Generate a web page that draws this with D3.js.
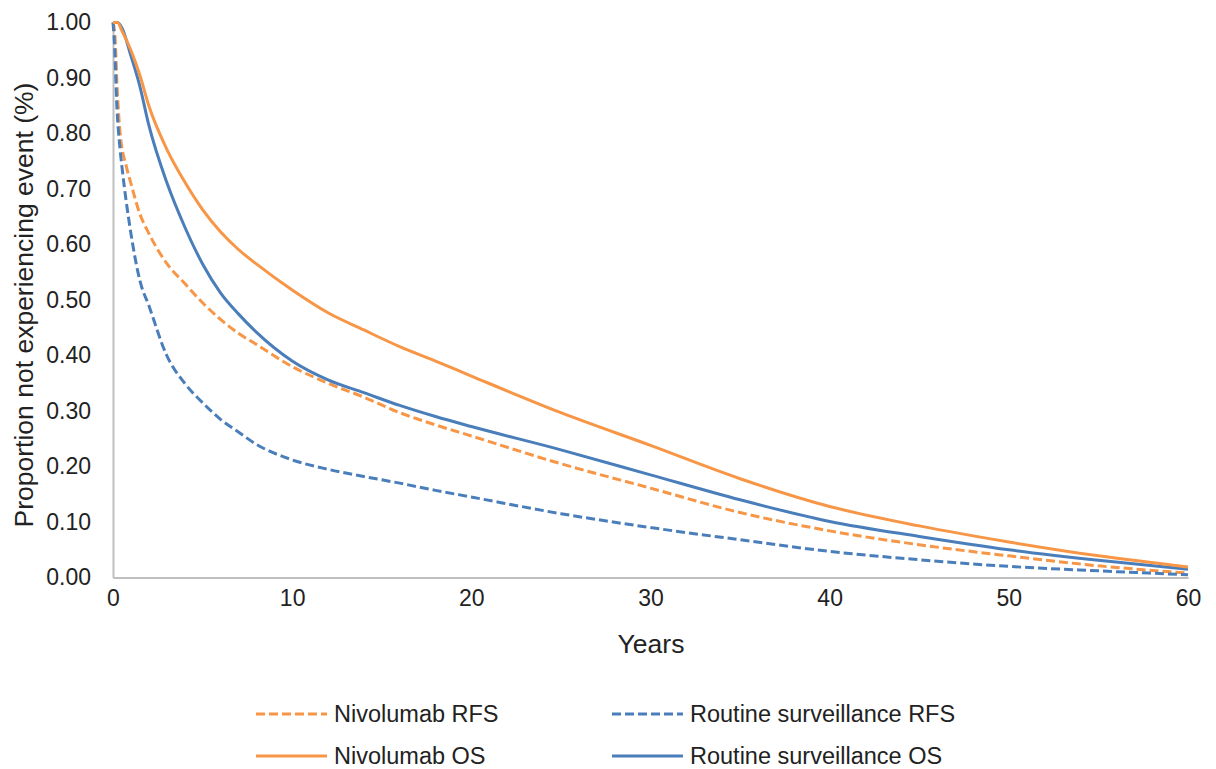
<!DOCTYPE html>
<html><head><meta charset="utf-8">
<script src="https://cdn.jsdelivr.net/npm/d3@7"></script>
<style>body{margin:0;background:#fff}svg{display:block}text{font-family:"Liberation Sans",Arial,sans-serif;fill:#222}</style>
</head><body><svg id="c" width="1216" height="769"></svg>
<script>
const xTicks = [0,10,20,30,40,50,60];
const yTicks = [0,0.1,0.2,0.3,0.4,0.5,0.6,0.7,0.8,0.9,1.0];
const seriesNames = ["Nivolumab RFS","Routine surveillance RFS","Nivolumab OS","Routine surveillance OS"];
const nivoRFS_t = [0,0.1,0.25,0.4,0.75,1,1.5,2,3,4,5,6,7,8,10,12,14,16,18,20,25,30,35,40,45,50,55,60];
const nivoRFS_v = [1.0,0.98,0.87,0.80,0.74,0.71,0.655,0.62,0.566,0.53,0.495,0.465,0.44,0.42,0.38,0.35,0.325,0.297,0.275,0.255,0.205,0.161,0.117,0.084,0.059,0.039,0.021,0.008];
const rsRFS_t = [0,0.1,0.2,0.4,0.5,1,1.5,2,3,4,5,6,7,8,10,12,14,16,18,20,25,30,35,40,45,50,55,60];
const rsRFS_v = [1.0,0.95,0.86,0.77,0.74,0.62,0.535,0.49,0.40,0.35,0.315,0.285,0.262,0.24,0.212,0.195,0.182,0.17,0.157,0.145,0.115,0.09,0.068,0.047,0.032,0.02,0.012,0.005];
const nivoOS_t = [0,0.25,0.5,1,1.5,2,3,4,5,6,7,8,10,12,14,16,18,20,25,30,35,40,45,50,55,60];
const nivoOS_v = [1.0,1.0,0.985,0.95,0.905,0.85,0.772,0.713,0.663,0.623,0.591,0.565,0.518,0.477,0.446,0.416,0.39,0.363,0.297,0.238,0.178,0.128,0.093,0.064,0.039,0.019];
const rsOS_t = [0,0.25,0.5,1,1.5,2,3,4,5,6,7,8,10,12,14,16,18,20,25,30,35,40,45,50,55,60];
const rsOS_v = [1.0,1.0,0.99,0.94,0.885,0.815,0.712,0.632,0.565,0.513,0.475,0.442,0.39,0.356,0.333,0.31,0.29,0.272,0.23,0.185,0.14,0.101,0.074,0.05,0.031,0.015];

const orange = "#F79646", blue = "#4A7EBB";
const series = [
  {name:seriesNames[0], t:nivoRFS_t, v:nivoRFS_v, color:orange, dash:"9,4"},
  {name:seriesNames[1], t:rsRFS_t, v:rsRFS_v, color:blue, dash:"9,4"},
  {name:seriesNames[2], t:nivoOS_t, v:nivoOS_v, color:orange, dash:null},
  {name:seriesNames[3], t:rsOS_t, v:rsOS_v, color:blue, dash:null}
];

const svg = d3.select("#c");
const x = d3.scaleLinear().domain([0,60]).range([113,1188]);
const y = d3.scaleLinear().domain([0,1]).range([577.5,22.5]);

// axes
const yAx = svg.append("g").attr("transform","translate(113,0)")
  .call(d3.axisLeft(y).tickValues(yTicks).tickFormat(d3.format(".2f")).tickSize(0).tickPadding(22));
yAx.select(".domain").attr("stroke","#BFBFBF").attr("stroke-width",2);
yAx.selectAll("text").style("font-size","23px").attr("fill","#222");
const xAx = svg.append("g").attr("transform","translate(0,577.5)")
  .call(d3.axisBottom(x).tickValues(xTicks).tickFormat(d3.format("d")).tickSize(0).tickPadding(12));
xAx.select(".domain").attr("stroke","#BFBFBF").attr("stroke-width",2);
xAx.selectAll("text").style("font-size","23px").attr("fill","#222");

svg.append("text").attr("x",651).attr("y",653).attr("text-anchor","middle").style("font-size","26.5px").text("Years");
svg.append("text").attr("transform","translate(33,305) rotate(-90)").attr("text-anchor","middle").style("font-size","26.5px").text("Proportion not experiencing event (%)");

const line = d3.line().x(d=>x(d[0])).y(d=>y(d[1])).curve(d3.curveMonotoneX);
[series[0],series[1],series[3],series[2]].forEach(s=>{
  svg.append("path").datum(s.t.map((t,i)=>[t,s.v[i]]))
    .attr("d",line).attr("fill","none").attr("stroke",s.color).attr("stroke-width",3)
    .attr("stroke-dasharray",s.dash);
});

// legend
const lg = [{s:series[0],x:256,y:714},{s:series[1],x:612,y:714},{s:series[2],x:256,y:756},{s:series[3],x:612,y:756}];
lg.forEach(l=>{
  svg.append("line").attr("x1",l.x).attr("x2",l.x+71).attr("y1",l.y).attr("y2",l.y)
    .attr("stroke",l.s.color).attr("stroke-width",3).attr("stroke-dasharray",l.s.dash);
  svg.append("text").attr("x",l.x+78).attr("y",l.y).attr("dy","0.35em").style("font-size","23.5px").text(l.s.name);
});
</script></body></html>
